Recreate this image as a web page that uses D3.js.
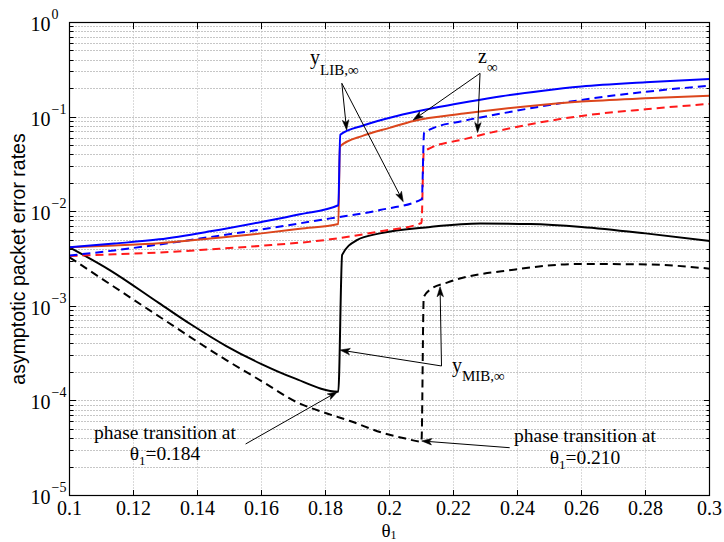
<!DOCTYPE html>
<html>
<head>
<meta charset="utf-8">
<script src="https://cdn.jsdelivr.net/npm/d3@7"></script>
<style>
  body { margin: 0; background: #fff; }
  svg { display: block; }
</style>
</head>
<body>
<svg id="chart" width="724" height="542"></svg>
<script>
// ---- axis ticks ----
const xTicks = [0.1, 0.12, 0.14, 0.16, 0.18, 0.2, 0.22, 0.24, 0.26, 0.28, 0.3];
const xTickLabels = ["0.1", "0.12", "0.14", "0.16", "0.18", "0.2", "0.22", "0.24", "0.26", "0.28", "0.3"];
const yMajorTicks = [1e-5, 1e-4, 1e-3, 1e-2, 1e-1, 1];
const yTickExponents = ["\u22125", "\u22124", "\u22123", "\u22122", "\u22121", "0"];

// ---- y_LIB, phase transition at theta1 = 0.184 (blue solid) ----
const thetaLibA = [0.100, 0.114, 0.128, 0.144, 0.160, 0.172, 0.184, 0.1846, 0.192, 0.202, 0.213, 0.225, 0.235, 0.248, 0.260, 0.280, 0.300];
const libA      = [4.2e-3, 4.6e-3, 5.1e-3, 6.2e-3, 7.8e-3, 9.4e-3, 1.17e-2, 6.5e-2, 8.2e-2, 1.02e-1, 1.23e-1, 1.46e-1, 1.66e-1, 1.90e-1, 2.10e-1, 2.33e-1, 2.53e-1];

// ---- z, phase transition at theta1 = 0.184 (orange-red solid) ----
const thetaZA = [0.100, 0.114, 0.128, 0.144, 0.160, 0.172, 0.184, 0.1845, 0.192, 0.200, 0.2075, 0.2232, 0.235, 0.244, 0.260, 0.280, 0.300];
const zA      = [4.2e-3, 4.4e-3, 4.65e-3, 5.2e-3, 5.9e-3, 6.6e-3, 7.4e-3, 4.9e-2, 6.4e-2, 7.7e-2, 9.1e-2, 1.09e-1, 1.22e-1, 1.31e-1, 1.46e-1, 1.58e-1, 1.68e-1];

// ---- y_LIB, phase transition at theta1 = 0.210 (blue dashed) ----
const thetaLibB = [0.100, 0.114, 0.128, 0.144, 0.160, 0.1815, 0.197, 0.2101, 0.2108, 0.2127, 0.223, 0.2336, 0.244, 0.260, 0.280, 0.300];
const libB      = [3.44e-3, 3.9e-3, 4.5e-3, 5.4e-3, 6.5e-3, 8.5e-3, 1.04e-2, 1.36e-2, 6.8e-2, 7.4e-2, 9.1e-2, 1.07e-1, 1.24e-1, 1.52e-1, 1.85e-1, 2.15e-1];

// ---- z, phase transition at theta1 = 0.210 (red dashed) ----
const thetaZB = [0.100, 0.114, 0.128, 0.144, 0.1596, 0.1815, 0.197, 0.2100, 0.2107, 0.2127, 0.223, 0.2336, 0.244, 0.260, 0.280, 0.300];
const zB      = [3.4e-3, 3.55e-3, 3.7e-3, 4.0e-3, 4.35e-3, 5.1e-3, 6.2e-3, 7.6e-3, 4.2e-2, 4.7e-2, 5.8e-2, 7.1e-2, 8.4e-2, 1.03e-1, 1.21e-1, 1.38e-1];

// ---- y_MIB, phase transition at theta1 = 0.184 (black solid) ----
const thetaMibA = [0.100, 0.1127, 0.128, 0.138, 0.149, 0.160, 0.170, 0.184, 0.1852, 0.1898, 0.197, 0.2127, 0.2284, 0.244, 0.260, 0.280, 0.300];
const mibA      = [4.2e-3, 2.4e-3, 1.08e-3, 6.42e-4, 3.8e-4, 2.45e-4, 1.75e-4, 1.25e-4, 3.5e-3, 5.0e-3, 5.9e-3, 6.9e-3, 7.5e-3, 7.4e-3, 6.9e-3, 5.9e-3, 4.9e-3];

// ---- y_MIB, phase transition at theta1 = 0.210 (black dashed) ----
const thetaMibB = [0.100, 0.114, 0.128, 0.149, 0.160, 0.171, 0.180, 0.1877, 0.198, 0.205, 0.210, 0.2107, 0.2127, 0.218, 0.2388, 0.2597, 0.2805, 0.300];
const mibB      = [3.3e-3, 1.6e-3, 7.8e-4, 2.7e-4, 1.62e-4, 9.7e-5, 7.45e-5, 6.13e-5, 4.58e-5, 4.0e-5, 3.72e-5, 1.25e-3, 1.5e-3, 1.78e-3, 2.44e-3, 2.8e-3, 2.77e-3, 2.5e-3];

// ---- annotation arrows, in data units: [theta0, value0, theta1, value1] (tip at the end) ----
const arrowsLib = [[0.1851, 0.2277, 0.1866, 0.0730], [0.1851, 0.2277, 0.2043, 0.01276]];
const arrowsZ   = [[0.2283, 0.2904, 0.2074, 0.0932], [0.2283, 0.2904, 0.2275, 0.0687]];
const arrowsMib = [[0.21625, 2.34e-4, 0.18453, 3.45e-4], [0.21625, 2.34e-4, 0.2158, 1.61e-3]];
const arrowsPhase = [[0.15503, 3.503e-5, 0.18375, 1.25e-4], [0.23756, 3.20e-5, 0.21006, 3.77e-5]];

// ---- annotation text anchors, in data units ----
const labelLib = [0.17519, 0.364];
const labelZ   = [0.22766, 0.3705];
const labelMib = [0.21953, 2.02e-4];
const phaseTexts = [
  { at: [0.12984, 3.86e-5], value: "0.184" },
  { at: [0.26109, 3.545e-5], value: "0.210" }
];

const svg = d3.select("#chart");
const X0 = 69.5, X1 = 709.5, Y0 = 22.5, Y1 = 495.5;
const x = d3.scaleLinear().domain([0.1, 0.3]).range([X0, X1]);
const y = d3.scaleLog().domain([1e-5, 1]).range([Y1, Y0]);
const snap = v => Math.round(v - 0.5) + 0.5;
const serif = "'Liberation Serif', 'Times New Roman', serif";

svg.append("rect").attr("width", 724).attr("height", 542).attr("fill", "#fff");

// every 1..9 x 10^e value inside the axis range
const yAllTicks = d3.range(-5, 0).flatMap(e => d3.range(1, 10).map(k => +(k * Math.pow(10, e)).toPrecision(3))).concat([1]);
const yMinorTicks = yAllTicks.filter(v => !yMajorTicks.includes(v));

// ---- dotted grid ----
const grid = svg.append("g");
grid.selectAll("line.h").data(yAllTicks.filter(v => v > 1e-5 && v < 1)).join("line")
  .attr("class", "h")
  .attr("x1", X0).attr("x2", X1)
  .attr("y1", d => snap(y(d))).attr("y2", d => snap(y(d)))
  .attr("stroke", "#8c8c8c").attr("stroke-width", 1).attr("stroke-dasharray", "1,2");
grid.selectAll("line.v").data(xTicks.slice(1, -1)).join("line")
  .attr("class", "v")
  .attr("x1", d => snap(x(d))).attr("x2", d => snap(x(d)))
  .attr("y1", Y0).attr("y2", Y1)
  .attr("stroke", "#b4b4b4").attr("stroke-width", 1).attr("stroke-dasharray", "1,2");

// ---- curves ----
svg.append("clipPath").attr("id", "plotclip").append("rect")
  .attr("x", X0).attr("y", Y0).attr("width", X1 - X0).attr("height", Y1 - Y0);
const line = d3.line().x(d => x(d[0])).y(d => y(d[1])).curve(d3.curveMonotoneX);
const series = [
  { t: thetaMibB, v: mibB, color: "#000", dash: "8,5" },
  { t: thetaMibA, v: mibA, color: "#000", dash: null },
  { t: thetaZB,   v: zB,   color: "#ff1a1a", dash: "8,5" },
  { t: thetaLibB, v: libB, color: "#0000ff", dash: "8,5" },
  { t: thetaZA,   v: zA,   color: "#dc461c", dash: null },
  { t: thetaLibA, v: libA, color: "#0000ff", dash: null }
];
const curves = svg.append("g").attr("clip-path", "url(#plotclip)");
series.forEach(s => {
  curves.append("path")
    .datum(d3.zip(s.t, s.v))
    .attr("d", line)
    .attr("fill", "none")
    .attr("stroke", s.color)
    .attr("stroke-width", 2)
    .attr("stroke-dasharray", s.dash)
    .attr("stroke-linejoin", "round");
});

// ---- axes: ticks point inward on all four sides ----
function styleAxis(g) {
  g.select(".domain").remove();
  g.selectAll(".tick line").attr("stroke", "#000");
  g.attr("font-family", serif).attr("font-size", 20);
  g.selectAll("text").attr("fill", "#000");
}
const fmtX = d => xTickLabels[xTicks.indexOf(d)];
svg.append("g").attr("transform", `translate(0,${Y1})`)
  .call(d3.axisBottom(x).tickValues(xTicks).tickFormat(fmtX).tickSizeInner(-6).tickSizeOuter(0).tickPadding(5).offset(0))
  .call(styleAxis);
svg.append("g").attr("transform", `translate(0,${Y0})`)
  .call(d3.axisTop(x).tickValues(xTicks).tickFormat("").tickSizeInner(-6).tickSizeOuter(0).offset(0))
  .call(styleAxis);
[[d3.axisLeft, X0], [d3.axisRight, X1]].forEach(([mk, pos]) => {
  svg.append("g").attr("transform", `translate(${pos},0)`)
    .call(mk(y).tickValues(yMajorTicks).tickFormat("").tickSizeInner(-6).tickSizeOuter(0).offset(0))
    .call(styleAxis);
  svg.append("g").attr("transform", `translate(${pos},0)`)
    .call(mk(y).tickValues(yMinorTicks).tickFormat("").tickSizeInner(-3.5).tickSizeOuter(0).offset(0))
    .call(styleAxis);
});
// snap tick lines to the pixel grid
svg.selectAll(".tick").each(function () {
  const tr = d3.select(this).attr("transform");
  const m = /translate\(([-\d.e]+),([-\d.e]+)\)/.exec(tr);
  if (m) d3.select(this).attr("transform", `translate(${snap(+m[1])},${snap(+m[2])})`);
});

// y tick labels: 10 with a raised exponent
const yLab = svg.append("g").attr("font-family", serif).attr("fill", "#000");
yMajorTicks.forEach((v, i) => {
  const py = snap(y(v));
  yLab.append("text").attr("x", 50.5).attr("y", py + 8).attr("text-anchor", "end")
    .attr("font-size", 20).text("10");
  yLab.append("text").attr("x", 51.5).attr("y", py - 4)
    .attr("font-size", 14).text(yTickExponents[i]);
});

// frame
svg.append("rect").attr("x", X0).attr("y", Y0).attr("width", X1 - X0).attr("height", Y1 - Y0)
  .attr("fill", "none").attr("stroke", "#000").attr("stroke-width", 1.2);

// axis titles
svg.append("text")
  .attr("transform", `translate(25,${(Y0 + Y1) / 2}) rotate(-90)`)
  .attr("text-anchor", "middle")
  .attr("font-family", "'Liberation Sans', Arial, sans-serif")
  .attr("font-size", 19.5)
  .attr("fill", "#000")
  .text("asymptotic packet error rates");
const xt = svg.append("text").attr("x", 389).attr("y", 536.5).attr("text-anchor", "middle")
  .attr("font-family", serif).attr("font-size", 19).attr("fill", "#000");
xt.append("tspan").attr("fill", "#000").text("\u03b8");
xt.append("tspan").attr("fill", "#000").attr("font-size", 12).attr("dy", 2.5).text("1");

// ---- annotations ----
const ann = svg.append("g").attr("font-family", serif).attr("fill", "#000");
function arrow(a) {
  const x0 = x(a[0]), y0 = y(a[1]), x1 = x(a[2]), y1 = y(a[3]);
  const ang = Math.atan2(y1 - y0, x1 - x0);
  const L = 10, W = 3.2, N = 7.5;
  const ca = Math.cos(ang), sa = Math.sin(ang);
  const bx = x1 - L * ca, by = y1 - L * sa;
  const nx = x1 - N * ca, ny = y1 - N * sa;
  ann.append("line").attr("x1", x0).attr("y1", y0).attr("x2", nx).attr("y2", ny)
    .attr("stroke", "#000").attr("stroke-width", 1);
  ann.append("path")
    .attr("d", `M${x1},${y1}L${bx - W * sa},${by + W * ca}L${nx},${ny}L${bx + W * sa},${by - W * ca}Z`)
    .attr("fill", "#000").attr("stroke", "#000").attr("stroke-width", 0.6).attr("stroke-linejoin", "miter");
}
arrowsLib.concat(arrowsZ, arrowsMib, arrowsPhase).forEach(arrow);

function subLabel(pos, main, sub, subSize, subDy) {
  const t = ann.append("text").attr("x", x(pos[0])).attr("y", y(pos[1])).attr("font-size", 20).attr("fill", "#000");
  t.append("tspan").attr("fill", "#000").text(main);
  t.append("tspan").attr("fill", "#000").attr("font-size", subSize).attr("dy", subDy).text(sub);
}
subLabel(labelLib, "y", "LIB,\u221e", 15, 10.5);
subLabel(labelZ, "z", "\u221e", 15, 8.5);
subLabel(labelMib, "y", "MIB,\u221e", 15, 9);

phaseTexts.forEach(p => {
  const cx = x(p.at[0]), by = y(p.at[1]);
  ann.append("text").attr("x", cx).attr("y", by - 1.5).attr("text-anchor", "middle")
    .attr("font-size", 19.5).attr("fill", "#000").text("phase transition at");
  const t = ann.append("text").attr("x", cx).attr("y", by + 20).attr("text-anchor", "middle")
    .attr("font-size", 19.5).attr("fill", "#000");
  t.append("tspan").attr("fill", "#000").text("\u03b8");
  t.append("tspan").attr("fill", "#000").attr("font-size", 13).attr("dy", 5).text("1");
  t.append("tspan").attr("fill", "#000").attr("dy", -5).text("=" + p.value);
});
</script>
</body>
</html>
